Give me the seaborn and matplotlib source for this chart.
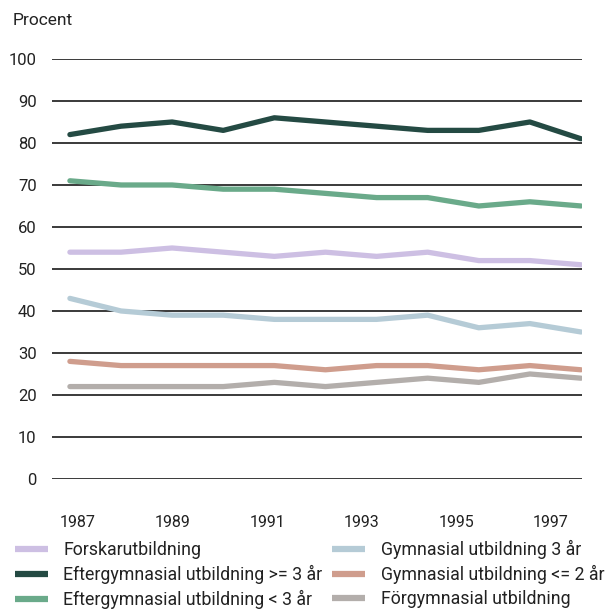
import seaborn as sns
import matplotlib.pyplot as plt
import numpy as np
import pandas as pd

# survey points (11 measurements), x-axis labels every other year
n_points = 11
tick_years = [1987, 1989, 1991, 1993, 1995, 1997]

series_names = [
    "Forskarutbildning",
    "Eftergymnasial utbildning >= 3 år",
    "Eftergymnasial utbildning < 3 år",
    "Gymnasial utbildning 3 år",
    "Gymnasial utbildning <= 2 år",
    "Förgymnasial utbildning",
]

forskar = [54, 54, 55, 54, 53, 54, 53, 54, 52, 52, 51]
efter_3plus = [82, 84, 85, 83, 86, 85, 84, 83, 83, 85, 81]
efter_under3 = [71, 70, 70, 69, 69, 68, 67, 67, 65, 66, 65]
gym_3 = [43, 40, 39, 39, 38, 38, 38, 39, 36, 37, 35]
gym_2 = [28, 27, 27, 27, 27, 26, 27, 27, 26, 27, 26]
forgym = [22, 22, 22, 22, 23, 22, 23, 24, 23, 25, 24]

colors = ["#cdbfe3", "#244a43", "#6aaa8a", "#b5cbd6", "#cf9d8d", "#b3aeab"]

values = [forskar, efter_3plus, efter_under3, gym_3, gym_2, forgym]
rows = []
for name, vals in zip(series_names, values):
    for i, v in enumerate(vals):
        rows.append({"punkt": i, "procent": v, "serie": name})
df = pd.DataFrame(rows)

sns.set_style("white")
plt.rcParams["font.family"] = ["Roboto", "DejaVu Sans"]

fig = plt.figure(figsize=(6.12, 6.10), dpi=100)
ax = fig.add_axes([0.085, 0.2148, 0.866, 0.6885])

for y in range(0, 101, 10):
    ax.axhline(y, color="#2b2b2b", linewidth=1.3, zorder=0)

sns.lineplot(
    data=df,
    x="punkt",
    y="procent",
    hue="serie",
    hue_order=series_names,
    palette=colors,
    linewidth=3.8,
    ax=ax,
)

ax.set_ylim(0, 100)
ax.set_xlim(-0.35, 10.02)
ax.set_yticks(range(0, 101, 10))
# year labels sit on a slightly different spacing than the survey points
tick_pos = [0.16 + (yr - 1987) * 0.925 for yr in tick_years]
ax.set_xticks(tick_pos)
ax.set_xticklabels([str(y) for y in tick_years])
ax.tick_params(axis="both", length=0, colors="#222222")
ax.tick_params(axis="y", pad=11, labelsize=12)
ax.tick_params(axis="x", pad=26, labelsize=11.5)
ax.set_xlabel("")
ax.set_ylabel("")
sns.despine(ax=ax, left=True, bottom=True, top=True, right=True)

fig.text(0.02, 0.967, "Procent", fontsize=12.5, color="#222222", va="center")

handles, labels = ax.get_legend_handles_labels()
ax.get_legend().remove()
leg = fig.legend(
    handles,
    labels,
    loc="lower left",
    bbox_to_anchor=(0.01, -0.013),
    borderpad=0,
    ncol=2,
    frameon=False,
    fontsize=12.8,
    handlelength=1.85,
    handletextpad=0.87,
    columnspacing=0.55,
    labelspacing=0.34,
)
for line in leg.get_lines():
    line.set_linewidth(4.5)
    line.set_solid_capstyle("butt")
for t in leg.get_texts():
    t.set_color("#222222")

fig.savefig("out.png", dpi=100)
